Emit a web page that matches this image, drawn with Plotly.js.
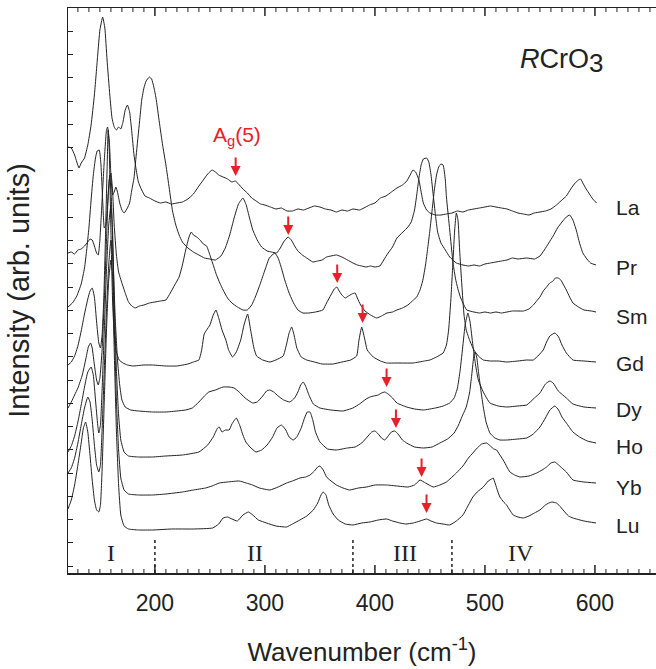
<!DOCTYPE html>
<html><head><meta charset="utf-8">
<script src="https://cdn.plot.ly/plotly-3.0.1.min.js"></script>
<style>html,body{margin:0;padding:0;background:#fff}#chart{width:656px;height:669px}</style>
</head><body><div id="chart"></div>
<script>
// ---- data (wavenumber in cm^-1, intensity in arb. units, spectra already offset) ----
const laX = [121,124,127,129,131,133,136,139,142,145,148,150,152.5,154.5,156.5,159,161,163,165,167,169,171,173,175,177,179,181,183,185,188,191,195,200,205,210,215,220,225,230,235,240,244,248,252,255,258,262,266,270,273,276,280,284,288,292,296,300,305,310,315,320,325,330,335,340,345,350,355,360,365,370,375,380,386,390,395,400,405,410,415,420,425,429,432,434.5,437,440,442,444,447,450,455,460,465,470,475,480,485,490,495,500,505,510,515,520,525,530,535,540,545,550,555,560,565,570,574,578,582,585,587,589,592,595,598,601.5];
const laY = [426,425,418,411,405,410,415,428,448,478,518,543,556,545,513,478,455,446,443,446,444,451,463,468,461,441,418,403,391,383,377,375,372,370,371,369,370,371,374,379,387,393,399,403,401,398,396,394,391,392,389,384,380,375,372,369,368,366,364,365,362,362,364,363,365,367,366,364,363,361,363,362,364,363,365,368,370,375,377,381,385,388,392,398,403,401,393,381,370,363,360,358,358,359,360,362,361,363,364,365,366,367,366,365,364,362,360,359,358,360,361,362,364,368,373,377,384,390,393,394,390,384,379,374,370];

const prX = [121,124,127,130,133,136,139,141,143,145,147,148.5,150,152,154,156,157,158.5,160,161.5,163,164.5,166,168,170,172,175,177,179,181,183,186,188,190,192,195,197,199,201,204,207,210,213,216,219,222,225,230,235,240,245,250,255,260,264,268,272,276,280,283,286,289,293,297,302,306,310.6,314,317,321,324,327,330,334,338,343.6,348,352,356,360,365,370,375,380,384,388,392,396,400,404.5,408,412,416,420,425.5,430,433,436,438,440,442,444,447,449,451,453,455,457,460,464,468,474,480,485,490,495,500,505,510,515,520,525,530,538,545,550,554,558,562,566,570,574,577,580,583,586,589,592,596,601];
const prY = [320,321,319,323,324,327,331,334,333,327,320,318,333,373,413,443,446,433,398,378,381,386,381,370,363,360,365,370,383,395,418,451,473,485,492,496,494,486,475,451,428,408,385,362,348,338,331,325,321,318,315,314,313,317,325,338,355,369,375,368,355,343,333,326,322,321,320,325,331,336,333,327,322,318,315,311,312,313,316,317,318,316,313,310,308,307,306,307,306,307,313,320,326,335,341,346,351,363,378,395,408,414,415,411,398,378,358,341,330,323,316,310,308,307,308,307,309,310,311,312,313,315,314,315,314,317,323,330,337,345,351,356,358,353,343,330,320,315,310,308];

const smX = [121,125,129,133,136,138,140,142,144,146,147.5,149.4,151,152.5,154,155.5,157,158.5,160,161.5,163,165,167,170,173,176,179,182,186,190,195,200,205,210,214,218,222,225,228,231,233,235,238,241,244,247,250,253,256,259,262,266,270,275,280,284,288,292,296,300,304,309,312,315,318,322,326,330,334.5,340,346,352.7,356,360,363,365.5,367,370,373,376,379,382,384,387,391,396,401.5,406,411,416,420,425,430,435,438,441,443.6,446,448,450,452,454,456,458,460,462,464,465,468,471,473.5,475.7,478,480,483.4,490,495,500,505,510,515,520,525,530,535,540,544,547,550,553,556,559,562,564,566.6,569,571,574,577,580,585,590,596.7,601];
const smY = [266,270,277,289,305,323,345,373,398,415,422,423,408,373,345,348,368,393,400,383,348,318,301,290,280,271,267,265,267,268,270,271,272,273,280,288,296,308,323,336,341,338,336,333,329,327,318,308,298,290,283,275,270,266,263,263,268,278,290,303,315,320,315,305,293,280,270,263,260,260,261,263,270,278,284,286,283,278,275,277,279,280,275,268,262,258,255,257,260,261,263,265,268,273,276,283,293,308,325,343,363,383,398,406,409,408,393,376,343,310,293,283,275,270,263,261,260,261,260,261,260,261,262,262,262,264,268,272,276,282,286,290,292,295,295,293,289,283,276,270,266,263,262,261];

const gdX = [121,124,127,130,133,136,139,141,143,145,147,149,150.5,152,153.5,155,156.5,157.5,158.5,160,161.5,163,165,167.5,171,175,180,190,198,210,220,230,235,240,242.5,244.8,247,250,253,255.5,258,261,264.5,267,270.6,274,278,281,284.3,287,290,292.4,298,304.5,310,316.6,319.5,322,324.3,326.5,329,333,338,345,352,362,370,378,383.4,385.5,388,390.5,393,398.5,405,410.6,420,434.8,445,450,456,462,465,467,469,471,472.5,474,475.5,477,479,481,483,486,490,494,498.5,505,512,520,530,538,544,549,553,556,559,563.6,567,570,574,580,590,601];
const gdY = [208,211,217,227,242,259,274,282,285,276,251,230,225,238,273,333,403,443,423,343,273,238,221,213,210,208,207,208,208,207,207,209,211,213,223,239,243,248,258,263,255,243,233,223,216,221,233,248,259,243,225,217,213,211,213,217,228,240,246,238,225,216,213,211,209,209,211,213,217,233,246,235,223,216,212,210,210,210,212,213,216,220,228,243,273,313,343,360,353,323,288,258,243,233,223,217,213,212,212,211,212,213,213,218,223,231,237,240,236,228,220,213,212,211];

const dyX = [121,124,127,130,134,137,139.5,141.5,143,145,147,148.5,150,152,154,156,157.5,159,160.5,162,164,166,168,170,173,178,185,198,210,220,228,234,240,245,249,255,262,267.5,272,276.6,282,288.8,293,298,301.5,304.5,308,312,317,322.7,327,330,332.5,334.8,337,340,344,350,360,371,380,386,392,395.5,399,403,406,409,412,416,420,428.8,436,444,455,462,468,472,475,477.5,480,482,484.5,486.5,489,491.5,494,498.5,504.5,512,520,530,538,545,550,555,559,562,566.7,574,580,590,601];
const dyY = [165,171,178,185,198,213,226,230,225,208,193,188,195,223,273,333,378,398,373,313,253,213,188,173,166,163,162,161,161,162,163,165,171,177,181,183,186,186,185,181,175,170,171,177,182,183,181,177,173,171,175,181,188,191,187,178,169,165,163,162,165,169,174,176,177,178,180,181,179,175,170,166,164,163,165,167,170,175,185,203,228,248,260,251,228,208,193,181,170,167,166,167,168,175,180,189,192,190,182,175,169,166,165];

const hoX = [121,124,127,130,133,136,139,142,144,146,148,149,150.5,152,154,156,158,160,161.5,163,165,167,169,172,176,185,198,210,225,240,248,253,257,258.5,261,264,267.5,270,274,277,280,282.7,286.4,291.8,297,302,307,311,315,319,322,325.7,329,333,336,338.5,341,343.5,346,350,357,365,375,382,388,393,397,400,403,406,409,412,415,418,421,425,428.8,436,444,452,459,466,472,476,479,483,486,488,490,491,492.5,494.5,496.5,498.5,501,504.5,509,513.6,520,530,538,544,550,555,559,563.6,567,570,574,580,586,593,601];
const hoY = [121,127,137,151,168,186,201,206,198,173,148,140,148,183,243,303,348,368,343,273,203,158,133,121,117,116,116,117,118,121,128,136,145,146,141,143,143,149,155,148,138,131,126,121,123,128,136,145,148,143,136,133,136,145,155,161,161,153,141,131,124,123,125,126,130,136,141,142,139,135,133,137,141,142,139,133,130,126,125,126,130,134,140,148,156,166,180,198,218,221,216,198,181,166,151,140,135,133,133,134,135,139,146,155,163,167,163,156,150,141,136,132,130];

const ybX = [121,124,127,130,133,136,139,141,143,145,147,149,150.5,152,154,156,158,160,161.5,163,165,167,169,172,176,185,198,210,225,235,246,252,258.5,266,276.6,283,288.8,295,304.5,312,319.7,325,331.8,337,341,345,348,350,353,356,359,365,371,377,385,392.5,400,410.6,420,430,436,441,446,453,459,465,474,480,485,489,493,497,501.5,505,508,510.6,513,516.6,520,522.7,527,531.8,540,547,552,556,560,563.6,567,570,574,580,590,601];
const ybY = [100,105,115,130,148,165,176,171,153,128,108,101,108,143,203,263,308,333,318,253,173,123,95,83,79,78,78,79,81,83,85,87,90,91,92,90,88,85,83,86,90,92,95,96,98,102,106,107,103,96,93,88,85,83,85,86,88,88,87,86,88,93,90,86,88,91,100,107,115,120,125,129,130,127,124,123,119,113,106,101,98,96,97,100,103,106,110,111,108,105,101,93,91,90];

const luX = [121,124,127,130,133,135,137,139,141,143,145,147,149,150.5,152,154,156,158,160,161.5,163,165,167,169,172,176,185,198,215,235,252.5,258,262,266,270,275,280,285,289,294,301.5,310,319.7,325,331.8,338,344,348,351,353,355.5,358,362,366.7,373,380,388,395.5,403,410.6,416,422.7,428,434.8,441,447,451,456,462,468,474,480,485,489,493,498.5,503,506,507.5,509.5,511.5,513.6,517,519.7,522.5,525.7,530,534.8,540,545,550,555,558,561,565,568,571,576,580,590,601];
const luY = [64,73,88,108,130,145,151,141,118,93,73,63,61,68,103,173,243,293,313,298,223,143,88,58,47,44,43,43,44,44,45,49,55,56,54,52,58,61,58,53,50,47,46,49,53,57,63,70,78,81,78,68,59,53,49,48,50,51,53,54,52,50,49,50,52,54,52,50,49,48,52,58,68,76,81,86,92,94,95,89,82,76,71,68,63,58,56,55,57,60,63,68,70,71,70,67,63,57,55,52,50];

const spectraNames = ['La','Pr','Sm','Gd','Dy','Ho','Yb','Lu'];
const labelY = [366,306,257,210,164,127,86,48];      // label heights (arb. units)
const agModeX = [273.4,321.2,365.7,388.8,410.6,419.1,442.4,446.9]; // Ag(5) positions
const agModeY = [397,338,290,250,186,145,96,60];
const regionBounds = [200,380,470];
const regionNames = ['I','II','III','IV'];
const regionCenters = [160,291,427,533];
const xTickStep = 10;           // small ticks every 10 cm^-1
const xLabelStep = 100;         // long, labelled ticks every 100 cm^-1
const xLabels = [200,300,400,500,600];

const xr = [121,655.5];
const series = [[laX,laY],[prX,prY],[smX,smY],[gdX,gdY],[dyX,dyY],[hoX,hoY],[ybX,ybY],[luX,luY]];
const traces = series.map((s,i)=>({x:s[0],y:s[1],type:'scatter',mode:'lines',name:spectraNames[i],
  line:{color:'#222',width:1,shape:'spline',smoothing:0.4},hoverinfo:'skip'}));

const ink = '#222';
const red = '#e8202a';
const annotations = [];
spectraNames.forEach((n,i)=>annotations.push({x:617,y:labelY[i],xref:'x',yref:'y',text:n,showarrow:false,
  xanchor:'left',yanchor:'middle',font:{size:21,color:ink}}));
agModeX.forEach((x,i)=>annotations.push({x:x,y:agModeY[i],xref:'x',yref:'y',text:'',showarrow:true,
  ax:0,ay:-20,arrowhead:2,arrowsize:1,arrowwidth:2,arrowcolor:red,standoff:0}));
annotations.push({x:275,y:437,xref:'x',yref:'y',text:'A<sub>g</sub>(5)',showarrow:false,font:{size:21,color:red}});
annotations.push({x:596,y:514,xref:'x',yref:'y',text:'<i>R</i>CrO',showarrow:false,xanchor:'right',font:{size:27,color:ink}});
annotations.push({x:593,y:510,xref:'x',yref:'y',text:'3',showarrow:false,xanchor:'left',font:{size:26,color:ink}});
regionNames.forEach((n,i)=>annotations.push({x:regionCenters[i],y:20,xref:'x',yref:'y',text:n,showarrow:false,
  font:{family:'Liberation Serif, Times New Roman, serif',size:24,color:ink}}));

const shapes = regionBounds.map(b=>({type:'line',xref:'x',yref:'y',x0:b,x1:b,y0:0,y1:34,
  line:{color:ink,width:1.5,dash:'3px,3px'}}));
// inward tick marks on the bottom and top frame edges, placed on the x scale
for(let v=Math.ceil(xr[0]/xTickStep)*xTickStep; v<=xr[1]; v+=xTickStep){
  const major = v % xLabelStep === 0;
  const len = major ? 8 : 4, w = major ? 1.5 : 1;
  shapes.push({type:'line',xref:'x',yref:'paper',ysizemode:'pixel',yanchor:0,x0:v,x1:v,y0:0,y1:len,line:{color:ink,width:w}});
  shapes.push({type:'line',xref:'x',yref:'paper',ysizemode:'pixel',yanchor:1,x0:v,x1:v,y0:0,y1:-len,line:{color:ink,width:w}});
}

const layout = {
  width:656,height:669,margin:{l:68,r:0,t:8,b:96},paper_bgcolor:'#fff',plot_bgcolor:'#fff',showlegend:false,
  font:{family:'Liberation Sans, Arial, sans-serif',color:ink},
  xaxis:{range:xr,tickmode:'array',tickvals:xLabels,ticks:'',showline:true,linecolor:ink,linewidth:1.5,mirror:true,
    showgrid:false,zeroline:false,automargin:false,tickfont:{size:23,color:ink},ticklabelstandoff:9,
    title:{text:'Wavenumber (cm<sup>-1</sup>)',font:{size:26,color:ink},standoff:27}},
  yaxis:{range:[0,565],tickmode:'linear',tick0:7,dtick:23.25,ticks:'inside',ticklen:5,tickwidth:1,tickcolor:ink,
    showticklabels:false,showline:true,linecolor:ink,linewidth:1.5,showgrid:false,zeroline:false,automargin:false,
    title:{text:'Intensity (arb. units)',font:{size:29,color:ink},standoff:28}},
  annotations:annotations,shapes:shapes
};
Plotly.newPlot('chart',traces,layout,{displayModeBar:false,staticPlot:true});
</script></body></html>
